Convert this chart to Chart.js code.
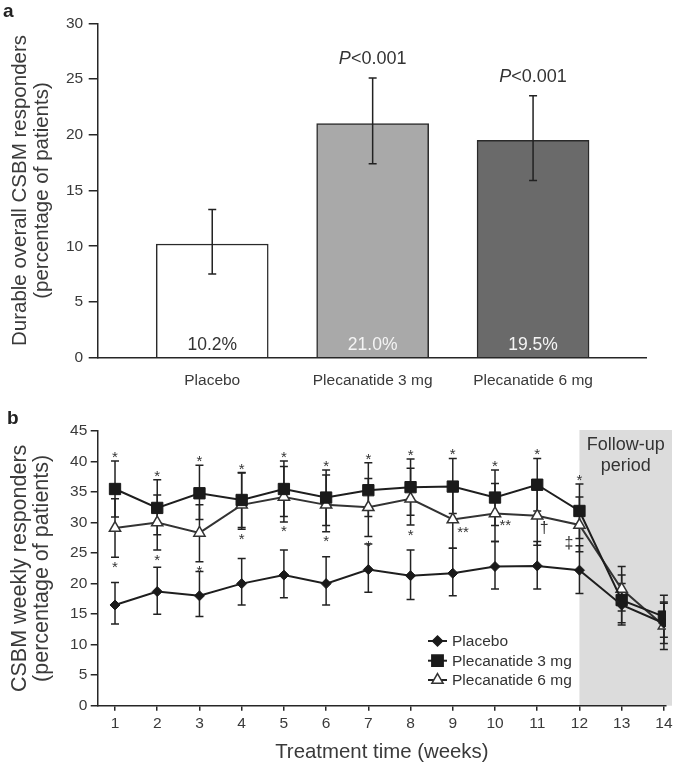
<!DOCTYPE html>
<html>
<head>
<meta charset="utf-8">
<script src="https://cdn.jsdelivr.net/npm/chart.js@4.4.1/dist/chart.umd.min.js"></script>
<style>
html,body{margin:0;padding:0;background:#fff;}
#wrap{position:relative;width:680px;height:768px;overflow:hidden;font-family:"Liberation Sans",Arial,sans-serif;}
canvas{position:absolute;left:0;}
#c1{top:0;}
#c2{top:395px;}
.panel{position:absolute;font-weight:bold;font-size:19px;line-height:22px;color:#222;}
</style>
</head>
<body>
<div id="wrap">
<canvas id="c1" width="680" height="395"></canvas>
<canvas id="c2" width="680" height="373"></canvas>
<div class="panel" style="left:3px;top:0px;">a</div>
<div class="panel" style="left:7px;top:407px;">b</div>
</div>
<script>
// ---------- Panel a data ----------
const barCategories = ['Placebo', 'Plecanatide 3 mg', 'Plecanatide 6 mg'];
const barValues = [10.2, 21.0, 19.5];
const barErrLow = [7.5, 17.4, 15.9];
const barErrHigh = [13.3, 25.1, 23.5];
const barValueLabels = ['10.2%', '21.0%', '19.5%'];
const barPLabels = ['', 'P<0.001', 'P<0.001'];
const barYTicks = [0, 5, 10, 15, 20, 25, 30];

// ---------- Panel b data ----------
const weeks = [1, 2, 3, 4, 5, 6, 7, 8, 9, 10, 11, 12, 13, 14];
const weekYTicks = [0, 5, 10, 15, 20, 25, 30, 35, 40, 45];
const placebo     = [16.5, 18.7, 18.0, 20.0, 21.4, 20.0, 22.3, 21.3, 21.7, 22.8, 22.9, 22.2, 16.5, 13.5];
const placeboLow  = [13.4, 15.0, 14.6, 16.5, 17.7, 16.5, 18.6, 17.4, 18.0, 19.1, 19.1, 18.4, 13.6, 10.2];
const placeboHigh = [20.2, 22.7, 22.0, 24.1, 25.5, 24.4, 26.5, 25.5, 25.8, 26.9, 26.9, 26.2, 20.0, 16.8];
const pl3mg       = [35.5, 32.4, 34.8, 33.7, 35.5, 34.1, 35.3, 35.8, 35.9, 34.1, 36.2, 31.9, 17.3, 14.6];
const pl3mgLow    = [30.9, 28.0, 30.5, 29.2, 31.0, 29.5, 31.0, 31.2, 31.5, 29.5, 31.9, 27.4, 13.2, 11.2];
const pl3mgHigh   = [40.1, 37.0, 39.4, 38.2, 40.1, 38.6, 39.8, 40.4, 40.5, 38.6, 40.5, 36.3, 21.4, 18.1];
const pl6mg       = [29.1, 30.0, 28.3, 32.9, 34.2, 32.9, 32.5, 33.9, 30.5, 31.5, 31.1, 29.6, 19.1, 13.1];
const pl6mgLow    = [24.3, 25.5, 23.6, 28.9, 30.1, 28.5, 27.7, 29.6, 25.8, 26.9, 26.3, 25.2, 15.5, 9.2];
const pl6mgHigh   = [33.9, 34.5, 32.9, 38.1, 39.2, 37.8, 37.2, 38.9, 35.3, 36.4, 35.9, 34.2, 22.8, 17.0];
const sig3mg = ['*', '*', '*', '*', '*', '*', '*', '*', '*', '*', '*', '*', '', ''];
const sig6mg = ['*', '*', '*', '*', '*', '*', '*', '*', '**', '**', '\u2020', '\u2021', '', ''];
const seriesNames = ['Placebo', 'Plecanatide 3 mg', 'Plecanatide 6 mg'];
const followUpStartWeek = 12;
const followUpText = ['Follow-up', 'period'];

// ---------- shared styles ----------
const FAMILY = "'Liberation Sans', Arial, Helvetica, sans-serif";
const AXIS = '#262626';
const TEXT = '#3a3a3a';
Chart.defaults.font.family = FAMILY;
Chart.defaults.color = TEXT;

// ---------- Panel a ----------
const barExtras = {
  id: 'barExtras',
  afterDatasetsDraw(chart) {
    const {ctx, scales: {x, y}} = chart;
    ctx.save();
    ctx.strokeStyle = '#222';
    ctx.lineWidth = 1.5;
    barValues.forEach((v, i) => {
      const px = x.getPixelForValue(i);
      const lo = y.getPixelForValue(barErrLow[i]);
      const hi = y.getPixelForValue(barErrHigh[i]);
      ctx.beginPath();
      ctx.moveTo(px, lo); ctx.lineTo(px, hi);
      ctx.moveTo(px - 4, lo); ctx.lineTo(px + 4, lo);
      ctx.moveTo(px - 4, hi); ctx.lineTo(px + 4, hi);
      ctx.stroke();
      ctx.font = '17.5px ' + FAMILY;
      ctx.textAlign = 'center';
      ctx.textBaseline = 'middle';
      ctx.fillStyle = i === 0 ? '#333' : '#f4f4f4';
      ctx.fillText(barValueLabels[i], px, y.getPixelForValue(0) - 13);
      const p = barPLabels[i];
      if (p) {
        const first = p.charAt(0), rest = p.slice(1);
        ctx.font = 'italic 18px ' + FAMILY;
        const w1 = ctx.measureText(first).width;
        ctx.font = '18px ' + FAMILY;
        const w2 = ctx.measureText(rest).width;
        const left = px - (w1 + w2) / 2;
        ctx.textAlign = 'left';
        ctx.fillStyle = '#333';
        ctx.font = 'italic 18px ' + FAMILY;
        ctx.fillText(first, left, hi - 19);
        ctx.font = '18px ' + FAMILY;
        ctx.fillText(rest, left + w1, hi - 19);
      }
    });
    ctx.restore();
  }
};

new Chart(document.getElementById('c1'), {
  type: 'bar',
  data: {
    datasets: [{
      data: barValues.map((v, i) => ({x: i, y: v})),
      backgroundColor: ['#ffffff', '#a9a9a9', '#6a6a6a'],
      borderColor: '#2a2a2a',
      borderWidth: 1.5,
      barThickness: 112
    }]
  },
  options: {
    responsive: false,
    animation: false,
    layout: {padding: {top: 23.3, right: 34, left: 0, bottom: 0}},
    plugins: {legend: {display: false}, tooltip: {enabled: false}},
    scales: {
      x: {
        type: 'linear', min: -0.7165, max: 2.704, offset: false,
        grid: {display: false},
        border: {display: true, color: AXIS, width: 1.5},
        afterBuildTicks: s => { s.ticks = barCategories.map((c, i) => ({value: i})); },
        ticks: {callback: v => barCategories[v], color: TEXT, font: {size: 15.5}, padding: 6, autoSkip: false, maxRotation: 0},
        afterFit: s => { s.height = 37.3; }
      },
      y: {
        min: 0, max: 30,
        afterBuildTicks: s => { s.ticks = barYTicks.map(v => ({value: v})); },
        ticks: {color: TEXT, font: {size: 15.5}, padding: 5.5},
        grid: {drawOnChartArea: false, tickLength: 8.6, color: AXIS, lineWidth: 1.5},
        border: {color: AXIS, width: 1.5},
        title: {display: true, text: ['Durable overall CSBM responders', '(percentage of patients)'],
                color: TEXT, font: {size: 20.5, lineHeight: 1.08}, padding: {top: 9, bottom: 0}},
        afterFit: s => { s.width = 97.3; }
      }
    }
  },
  plugins: [barExtras]
});

// ---------- Panel b ----------
const lowArr = [placeboLow, pl3mgLow, pl6mgLow];
const highArr = [placeboHigh, pl3mgHigh, pl6mgHigh];

function drawMarker(ctx, style, x, y, r, fill, stroke) {
  ctx.beginPath();
  if (style === 'rectRot') {
    ctx.moveTo(x, y - r); ctx.lineTo(x + r, y); ctx.lineTo(x, y + r); ctx.lineTo(x - r, y); ctx.closePath();
  } else if (style === 'rect') {
    const s = r * Math.SQRT1_2;
    ctx.rect(x - s, y - s, 2 * s, 2 * s);
  } else {
    ctx.moveTo(x, y - r);
    ctx.lineTo(x + r * Math.sin(Math.PI / 3), y + r / 2);
    ctx.lineTo(x - r * Math.sin(Math.PI / 3), y + r / 2);
    ctx.closePath();
  }
  ctx.fillStyle = fill; ctx.fill();
  ctx.lineWidth = 1.5; ctx.strokeStyle = stroke; ctx.stroke();
}

const lineExtras = {
  id: 'lineExtras',
  beforeDraw(chart) {
    const {ctx, scales: {x, y}, chartArea} = chart;
    ctx.save();
    const x0 = x.getPixelForValue(followUpStartWeek);
    const yTop = y.getPixelForValue(45) - 1;
    const yBot = y.getPixelForValue(0);
    ctx.fillStyle = '#dcdcdc';
    ctx.fillRect(x0, yTop, chartArea.right + 6 - x0, yBot - yTop);
    ctx.fillStyle = '#333';
    ctx.font = '18px ' + FAMILY;
    ctx.textAlign = 'center';
    ctx.textBaseline = 'middle';
    const cx = (x0 + chartArea.right + 6) / 2;
    ctx.fillText(followUpText[0], cx, yTop + 15);
    ctx.fillText(followUpText[1], cx, yTop + 36.5);
    ctx.restore();
  },
  beforeDatasetsDraw(chart) {
    const {ctx, scales: {x, y}} = chart;
    ctx.save();
    ctx.strokeStyle = '#222';
    ctx.lineWidth = 1.5;
    for (let s = 0; s < 3; s++) {
      weeks.forEach((w, i) => {
        const px = x.getPixelForValue(w);
        const lo = y.getPixelForValue(lowArr[s][i]);
        const hi = y.getPixelForValue(highArr[s][i]);
        ctx.beginPath();
        ctx.moveTo(px, lo); ctx.lineTo(px, hi);
        ctx.moveTo(px - 4, lo); ctx.lineTo(px + 4, lo);
        ctx.moveTo(px - 4, hi); ctx.lineTo(px + 4, hi);
        ctx.stroke();
      });
    }
    ctx.restore();
  },
  afterDatasetsDraw(chart) {
    const {ctx, scales: {x, y}} = chart;
    ctx.save();
    ctx.fillStyle = '#333';
    ctx.textBaseline = 'alphabetic';
    weeks.forEach((w, i) => {
      const px = x.getPixelForValue(w);
      if (sig3mg[i]) {
        ctx.font = '15px ' + FAMILY;
        ctx.textAlign = 'center';
        ctx.fillText(sig3mg[i], px, y.getPixelForValue(pl3mgHigh[i]) - 7.5 + 8.5);
      }
      const m = sig6mg[i];
      if (m === '*') {
        ctx.font = '15px ' + FAMILY;
        ctx.textAlign = 'center';
        ctx.fillText(m, px, y.getPixelForValue(pl6mgLow[i]) + 6 + 8.5);
      } else if (m === '**') {
        ctx.font = '15px ' + FAMILY;
        ctx.textAlign = 'left';
        ctx.fillText(m, px + 4.5, y.getPixelForValue(pl6mg[i]) + 8.5 + 8.5);
      } else if (m === '\u2020') {
        ctx.font = '16px ' + FAMILY;
        ctx.textAlign = 'center';
        ctx.fillText(m, px + 7, y.getPixelForValue(pl6mg[i]) + 13 + 4.5);
      } else if (m === '\u2021') {
        ctx.font = '16px ' + FAMILY;
        ctx.textAlign = 'center';
        ctx.fillText(m, px - 10.5, y.getPixelForValue(pl6mg[i]) + 18 + 4.5);
      }
    });
    // legend
    const styles = [['rectRot', 5, '#1a1a1a', '#1a1a1a'], ['rect', 8, '#1a1a1a', '#1a1a1a'], ['triangle', 6.5, '#ffffff', '#333']];
    const lx0 = 428, lx1 = 447, tx = 452;
    const rows = [246, 265.7, 285];
    seriesNames.forEach((n, k) => {
      const ly = rows[k];
      ctx.strokeStyle = '#222'; ctx.lineWidth = 2;
      ctx.beginPath(); ctx.moveTo(lx0, ly); ctx.lineTo(lx1, ly); ctx.stroke();
      drawMarker(ctx, styles[k][0], (lx0 + lx1) / 2, ly, styles[k][1], styles[k][2], styles[k][3]);
      ctx.fillStyle = '#333';
      ctx.font = '15.5px ' + FAMILY;
      ctx.textAlign = 'left';
      ctx.textBaseline = 'middle';
      ctx.fillText(n, tx, ly + 1);
      ctx.textBaseline = 'alphabetic';
    });
    ctx.restore();
  }
};

const toXY = arr => weeks.map((w, i) => ({x: w, y: arr[i]}));

new Chart(document.getElementById('c2'), {
  type: 'line',
  data: {
    datasets: [
      {label: seriesNames[0], data: toXY(placebo), borderColor: '#1e1e1e', borderWidth: 2,
       pointStyle: 'rectRot', pointRadius: 5, pointBackgroundColor: '#1a1a1a', pointBorderColor: '#1a1a1a', pointBorderWidth: 1},
      {label: seriesNames[1], data: toXY(pl3mg), borderColor: '#1e1e1e', borderWidth: 2,
       pointStyle: 'rect', pointRadius: 8, pointBackgroundColor: '#1a1a1a', pointBorderColor: '#1a1a1a', pointBorderWidth: 1},
      {label: seriesNames[2], data: toXY(pl6mg), borderColor: '#333', borderWidth: 2,
       pointStyle: 'triangle', pointRadius: 6.5, pointBackgroundColor: '#ffffff', pointBorderColor: '#333', pointBorderWidth: 1.5}
    ]
  },
  options: {
    responsive: false,
    animation: false,
    layout: {padding: {top: 36, right: 14, left: 0, bottom: 0}},
    plugins: {legend: {display: false}, tooltip: {enabled: false}},
    scales: {
      x: {
        type: 'linear', min: 0.59, max: 14.05, offset: false,
        afterBuildTicks: s => { s.ticks = weeks.map(v => ({value: v})); },
        ticks: {color: TEXT, font: {size: 15.5}, padding: 4, autoSkip: false, maxRotation: 0},
        grid: {drawOnChartArea: false, tickLength: 5, color: AXIS, lineWidth: 1.5},
        border: {color: AXIS, width: 1.5},
        title: {display: true, text: 'Treatment time (weeks)', color: TEXT, font: {size: 20.4}, padding: {top: 0, bottom: 3}},
        afterFit: s => { s.height = 62.3; }
      },
      y: {
        min: 0, max: 45,
        afterBuildTicks: s => { s.ticks = weekYTicks.map(v => ({value: v})); },
        ticks: {color: TEXT, font: {size: 15.5}, padding: 3.4},
        grid: {drawOnChartArea: false, tickLength: 7, color: AXIS, lineWidth: 1.5},
        border: {color: AXIS, width: 1.5},
        title: {display: true, text: ['CSBM weekly responders', '(percentage of patients)'],
                color: TEXT, font: {size: 21.5, lineHeight: 1.04}, padding: {top: 9, bottom: 0}},
        afterFit: s => { s.width = 97.7; }
      }
    }
  },
  plugins: [lineExtras]
});
</script>
</body>
</html>
